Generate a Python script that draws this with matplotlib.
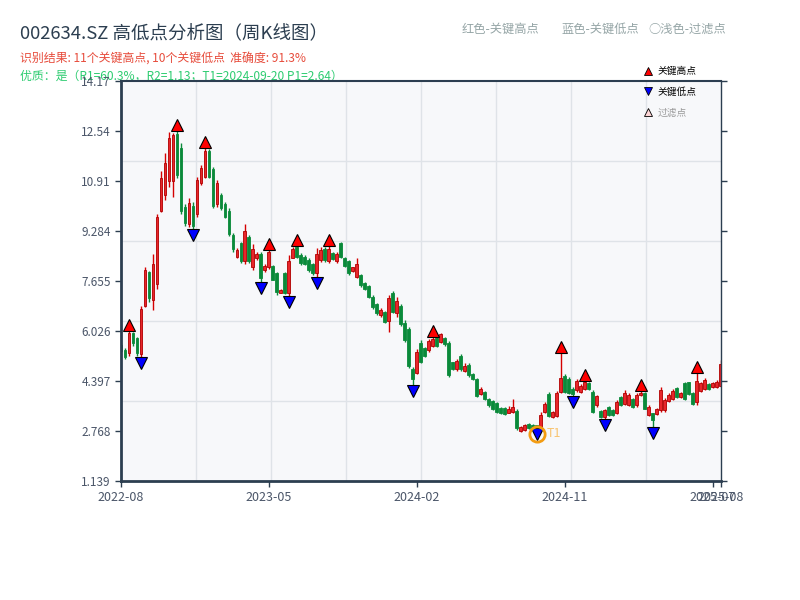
import matplotlib
matplotlib.use("Agg")
import matplotlib.pyplot as plt
from matplotlib.lines import Line2D
from matplotlib.transforms import offset_copy
import numpy as np

# weekly OHLC (index 0 = first week of 2022-08)
opens = [5.58, 5.42, 5.30, 5.95, 5.80, 5.28, 6.85, 7.95, 7.05, 7.55,
         9.95, 10.45, 10.90, 10.90, 12.45, 12.00, 10.05, 9.50, 10.10, 9.85,
         10.85, 11.05, 11.90, 11.30, 10.15, 10.45, 10.15, 9.95, 9.15, 8.45,
         8.90, 8.30, 9.10, 8.10, 8.40, 8.55, 8.00, 8.10, 8.15, 7.90,
         7.28, 7.90, 7.25, 8.40, 8.75, 8.50, 8.45, 8.35, 8.20, 7.90,
         8.35, 8.70, 8.30, 8.58, 8.30, 8.90, 8.40, 8.30, 7.98, 7.80,
         7.85, 7.60, 7.50, 7.15, 6.90, 6.55, 6.65, 6.35, 7.25, 6.60,
         6.85, 6.30, 6.10, 4.80, 4.65, 5.65, 5.48, 5.40, 5.55, 5.80,
         5.68, 5.80, 5.65, 5.00, 4.78, 5.22, 4.72, 4.93, 4.62, 4.45,
         3.97, 4.03, 3.80, 3.75, 3.68, 3.52, 3.52, 3.36, 3.38, 3.42,
         2.78, 2.80, 2.98, 2.95, 2.95, 2.90, 3.38, 3.98, 3.24, 3.25,
         4.05, 4.55, 4.45, 4.15, 4.10, 4.05, 4.15, 4.33, 4.05, 3.60,
         3.42, 3.22, 3.55, 3.44, 3.36, 3.88, 3.65, 3.62, 3.80, 3.60,
         3.93, 4.00, 3.30, 3.34, 3.32, 3.45, 3.45, 3.75, 3.82, 4.18,
         3.86, 4.33, 4.35, 4.00, 3.70, 4.08, 4.14, 4.30, 4.20, 4.20,
         4.25]
highs = [5.63, 5.46, 6.03, 6.00, 5.84, 6.85, 8.10, 7.99, 8.52, 9.84,
         11.25, 11.81, 12.52, 12.48, 12.55, 12.14, 10.15, 10.35, 10.22, 11.05,
         11.43, 11.98, 11.95, 11.38, 10.95, 10.51, 10.22, 10.02, 9.21, 8.72,
         8.94, 9.50, 9.15, 8.85, 8.60, 8.61, 8.20, 8.66, 8.18, 7.96,
         7.40, 7.96, 8.50, 8.77, 8.80, 8.56, 8.50, 8.39, 8.23, 8.72,
         8.77, 8.77, 8.80, 8.61, 8.61, 8.94, 8.45, 8.34, 8.12, 8.39,
         7.87, 7.63, 7.52, 7.20, 6.93, 6.76, 6.68, 7.20, 7.33, 7.14,
         6.89, 6.38, 6.17, 4.85, 5.44, 5.73, 5.52, 5.75, 5.84, 5.84,
         5.97, 5.84, 5.70, 5.03, 5.10, 5.28, 4.97, 4.97, 4.65, 4.48,
         4.20, 4.07, 3.83, 3.78, 3.72, 3.54, 3.56, 3.58, 3.80, 3.47,
         2.94, 2.98, 3.02, 2.99, 2.97, 3.38, 3.72, 4.04, 3.42, 4.07,
         5.30, 4.61, 4.52, 4.20, 4.45, 4.30, 4.40, 4.37, 4.10, 3.94,
         3.45, 3.50, 3.58, 3.47, 3.78, 3.91, 4.10, 4.00, 3.83, 4.00,
         4.06, 4.05, 3.61, 3.36, 3.51, 4.21, 3.83, 4.00, 4.13, 4.21,
         4.05, 4.38, 4.38, 4.05, 4.65, 4.38, 4.48, 4.34, 4.38, 4.43,
         5.08]
lows = [5.33, 5.12, 5.22, 5.55, 5.20, 5.19, 6.82, 6.98, 6.72, 7.38,
        9.90, 10.29, 10.72, 10.40, 11.00, 9.85, 9.46, 9.40, 9.35, 9.75,
        10.78, 11.00, 11.00, 10.02, 10.08, 9.97, 9.70, 9.13, 8.61, 8.41,
        8.25, 8.20, 8.23, 8.00, 8.35, 7.63, 7.95, 8.05, 7.68, 7.20,
        7.25, 7.22, 7.17, 8.39, 8.39, 8.18, 8.18, 7.96, 7.85, 7.80,
        8.28, 8.28, 8.23, 8.34, 8.23, 8.39, 8.12, 7.85, 7.96, 7.74,
        7.47, 7.36, 7.09, 6.74, 6.55, 6.49, 6.28, 6.00, 6.60, 6.49,
        6.20, 5.66, 4.81, 4.27, 4.61, 4.97, 5.19, 5.35, 5.51, 5.51,
        5.65, 5.55, 4.54, 4.75, 4.73, 4.73, 4.70, 4.54, 4.43, 3.87,
        3.94, 3.78, 3.56, 3.45, 3.34, 3.32, 3.29, 3.34, 3.34, 2.80,
        2.75, 2.77, 2.82, 2.80, 2.88, 2.86, 3.34, 3.21, 3.20, 3.21,
        4.00, 3.99, 3.98, 3.92, 4.05, 4.00, 4.10, 4.10, 3.34, 3.56,
        3.20, 3.16, 3.26, 3.26, 3.32, 3.58, 3.61, 3.58, 3.51, 3.56,
        3.91, 3.47, 3.26, 2.89, 3.29, 3.40, 3.40, 3.72, 3.78, 3.83,
        3.83, 3.78, 3.94, 3.61, 3.61, 4.05, 4.10, 4.12, 4.16, 4.16,
        4.21]
closes = [5.38, 5.18, 5.95, 5.62, 5.30, 6.75, 8.00, 7.10, 8.20, 9.75,
          11.00, 11.50, 12.30, 12.40, 11.10, 9.95, 9.55, 10.20, 9.45, 10.95,
          11.35, 11.90, 11.05, 10.10, 10.85, 10.02, 9.75, 9.20, 8.70, 8.65,
          8.30, 9.30, 8.30, 8.70, 8.52, 7.75, 8.15, 8.60, 7.70, 7.30,
          7.35, 7.25, 8.30, 8.70, 8.45, 8.25, 8.22, 8.00, 7.90, 8.55,
          8.65, 8.35, 8.70, 8.38, 8.55, 8.45, 8.15, 7.90, 8.10, 8.20,
          7.52, 7.40, 7.15, 6.80, 6.60, 6.70, 6.32, 7.10, 6.65, 7.00,
          6.25, 5.72, 4.90, 4.45, 5.35, 5.00, 5.22, 5.70, 5.75, 5.55,
          5.92, 5.60, 4.60, 4.78, 5.05, 4.78, 4.90, 4.58, 4.46, 3.92,
          4.15, 3.82, 3.60, 3.50, 3.38, 3.35, 3.32, 3.50, 3.55, 2.85,
          2.90, 2.95, 2.85, 2.83, 2.92, 3.30, 3.65, 3.26, 3.38, 4.00,
          4.50, 4.05, 4.00, 3.98, 4.40, 4.25, 4.35, 4.13, 3.40, 3.90,
          3.22, 3.45, 3.30, 3.30, 3.72, 3.62, 4.02, 3.95, 3.55, 3.95,
          4.02, 3.50, 3.55, 3.12, 3.48, 4.10, 3.78, 3.95, 4.08, 3.87,
          4.00, 3.82, 3.98, 3.65, 4.40, 4.33, 4.42, 4.15, 4.33, 4.38,
          4.95]

key_high_idx = [2, 14, 21, 37, 44, 52, 78, 110, 116, 130, 144]
key_low_idx = [5, 18, 35, 42, 49, 73, 104, 113, 121, 133]
t1_idx = 104

xtick_pos = [0, 37, 74, 111, 148, 150]
xtick_labels = ["2022-08", "2023-05", "2024-02", "2024-11", "2025-07", "2025-08"]
ytick_vals = [1.139, 2.768, 4.397, 6.026, 7.655, 9.284, 10.913, 12.542, 14.171]
ytick_labels = ["1.139", "2.768", "4.397", "6.026", "7.655", "9.284", "10.91", "12.54", "14.17"]

plt.rcParams["font.family"] = ["Noto Sans CJK SC", "DejaVu Sans"]
plt.rcParams["axes.unicode_minus"] = False

o = np.array(opens)
h = np.array(highs)
l = np.array(lows)
c = np.array(closes)
x = np.arange(len(o))
up = c >= o

fig = plt.figure(figsize=(8, 6), dpi=100)
ax = fig.add_axes([121 / 800, 119 / 600, 599.5 / 800, 400 / 600])
ax.set_facecolor("#f7f8fa")

# grid (drawn by hand, independent from the ticks)
for f in [0.2, 0.4, 0.6, 0.8]:
    ax.plot([0, 1], [f, f], transform=ax.transAxes, color="#dfe3e8", lw=1, zorder=0.5)
for k in range(1, 8):
    ax.plot([k / 8, k / 8], [0, 1], transform=ax.transAxes, color="#dfe3e8", lw=1, zorder=0.5)

wick_col = np.where(up, "#d40000", "#0a8a3a")
face_col = np.where(up, "#e8262b", "#0a8a3a")
edge_col = np.where(up, "#b00000", "#0a8a3a")
ax.vlines(x, l, h, colors=wick_col, lw=1, zorder=2)
body = np.maximum(np.abs(c - o), 0.04)
ax.bar(x, body, bottom=np.minimum(o, c), width=0.7, color=face_col,
       edgecolor=edge_col, linewidth=0.6, zorder=2)

# key points
up_tr = offset_copy(ax.transData, fig=fig, y=4.3, units="points")
dn_tr = offset_copy(ax.transData, fig=fig, y=-4.3, units="points")
ax.plot(x[key_high_idx], h[key_high_idx], "^", ms=8.5, mfc="#ff0000", mec="black",
        mew=0.8, ls="none", transform=up_tr, zorder=4)
ax.plot(x[key_low_idx], l[key_low_idx], "v", ms=8.5, mfc="#0000ff", mec="black",
        mew=0.8, ls="none", transform=dn_tr, zorder=4)

# T1 marker
ax.plot(x[t1_idx], l[t1_idx], "o", ms=11, mfc="none", mec="#f39c12", mew=2,
        transform=dn_tr, zorder=5)
ax.annotate("T1", (x[t1_idx], l[t1_idx]), xytext=(7.5, -4.5), textcoords="offset points",
            color="#f8c471", fontsize=9, va="center", ha="left", zorder=5)

ax.set_xlim(0, 150)
ax.set_ylim(1.139, 14.171)
ax.set_xticks(xtick_pos)
ax.set_xticklabels(xtick_labels)
ax.set_yticks(ytick_vals)
ax.set_yticklabels(ytick_labels)
ax.tick_params(axis="both", direction="out", length=4, width=1, color="#2c3e50",
               labelcolor="#4a5568", labelsize=8.5)
ax.tick_params(axis="x", labelsize=9)
ax.tick_params(axis="y", right=True)

for side, lw in [("left", 2.0), ("bottom", 2.0), ("top", 1.5), ("right", 1.0)]:
    ax.spines[side].set_color("#2c3e50")
    ax.spines[side].set_linewidth(lw)

# legend inside the upper right corner
handles = [
    Line2D([], [], marker="^", ls="none", ms=5.5, mfc="#ff0000", mec="black", mew=0.6),
    Line2D([], [], marker="v", ls="none", ms=5.5, mfc="#0000ff", mec="black", mew=0.6),
    Line2D([], [], marker="^", ls="none", ms=5.5, mfc="#ffd6d6", mec="black", mew=0.6),
]
leg = ax.legend(handles, ["关键高点", "关键低点", "过滤点"], loc="upper left",
                bbox_to_anchor=(643 / 800, 1 - 66 / 600), bbox_transform=fig.transFigure,
                frameon=False, fontsize=7, handlelength=1.0, handletextpad=0.5,
                labelspacing=1.1, borderpad=0, borderaxespad=0)
leg.get_texts()[2].set_color("#999999")

# header texts
fig.text(20 / 800, 1 - 33 / 600, "002634.SZ 高低点分析图（周K线图）", fontsize=13.3,
         color="#2c3e50", va="center", ha="left")
fig.text(20 / 800, 1 - 59 / 600, "识别结果: 11个关键高点, 10个关键低点  准确度: 91.3%",
         fontsize=8.6, color="#e74c3c", va="center", ha="left")
fig.text(20 / 800, 1 - 76 / 600, "优质：是（R1=60.3%，R2=1.13；T1=2024-09-20 P1=2.64）",
         fontsize=8.6, color="#2ecc71", va="center", ha="left", zorder=-1)
fig.text(462 / 800, 1 - 29 / 600, "红色-关键高点", fontsize=8.8, color="#95a5a6", va="center")
fig.text(562 / 800, 1 - 29 / 600, "蓝色-关键低点", fontsize=8.8, color="#95a5a6", va="center")
fig.text(648 / 800, 1 - 29 / 600, "○浅色-过滤点", fontsize=8.8, color="#95a5a6", va="center")

fig.savefig("out.png", dpi=100)
